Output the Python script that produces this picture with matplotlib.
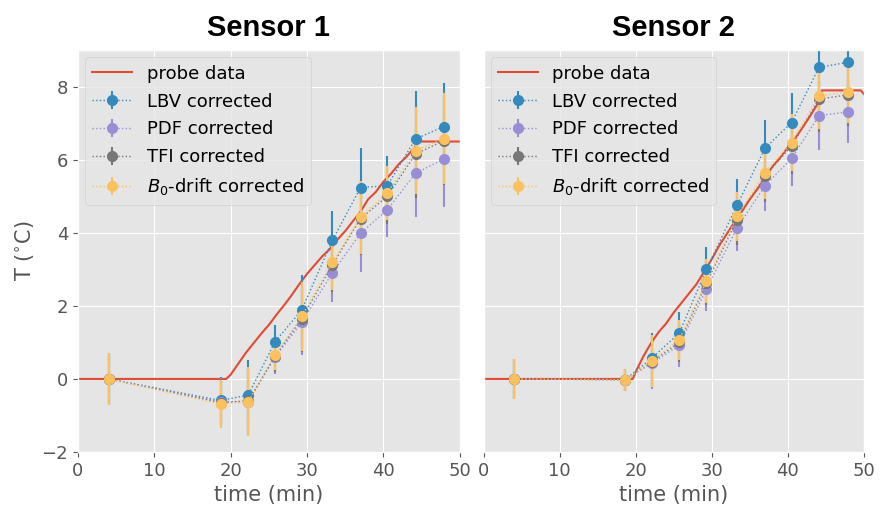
import numpy as np
import matplotlib
matplotlib.use("Agg")
import matplotlib.pyplot as plt

plt.style.use("ggplot")

# measurement times (min)
t1 = [4.0, 18.7, 22.3, 25.8, 29.3, 33.3, 37.0, 40.5, 44.2, 47.9]
t2 = [4.0, 18.6, 22.1, 25.7, 29.3, 33.3, 37.0, 40.5, 44.1, 47.9]

# probe data, sensor 1
probe1_t = [0, 19.4, 20.0, 21.0, 22.0, 23.0, 24.0, 25.0, 26.0, 27.0, 28.0, 29.0, 30.0,
            31.0, 32.0, 33.0, 34.0, 35.0, 36.0, 37.0, 38.0, 39.0, 40.0, 41.0, 42.0,
            43.0, 44.0, 44.6, 50]
probe1_T = [0, 0, 0.12, 0.42, 0.72, 0.98, 1.24, 1.48, 1.76, 2.02, 2.3, 2.6, 2.88,
            3.12, 3.36, 3.56, 3.82, 4.05, 4.32, 4.58, 4.92, 5.12, 5.4, 5.62, 5.88,
            6.08, 6.32, 6.5, 6.5]

# probe data, sensor 2
probe2_t = [0, 19.6, 20.0, 21.0, 22.0, 23.0, 24.0, 25.0, 26.0, 27.0, 28.0, 29.0, 30.0,
            31.0, 32.0, 33.0, 34.0, 35.0, 36.0, 37.0, 38.0, 39.0, 40.0, 41.0, 42.0,
            43.0, 44.0, 44.5, 49.6, 50]
probe2_T = [0, 0, 0.2, 0.62, 0.98, 1.28, 1.52, 1.82, 2.08, 2.34, 2.6, 2.94, 3.28,
            3.66, 3.98, 4.3, 4.6, 4.92, 5.2, 5.5, 5.82, 6.06, 6.34, 6.6, 6.9,
            7.22, 7.56, 7.9, 7.9, 7.8]

# sensor 1 corrected values and errors
lbv1 = [0.0, -0.59, -0.44, 1.02, 1.89, 3.79, 5.24, 5.29, 6.57, 6.91]
pdf1 = [0.0, -0.62, -0.62, 0.59, 1.55, 2.90, 3.99, 4.63, 5.63, 6.02]
tfi1 = [0.0, -0.65, -0.60, 0.62, 1.65, 3.12, 4.39, 5.00, 6.16, 6.52]
b01 = [0.0, -0.69, -0.62, 0.66, 1.71, 3.19, 4.43, 5.09, 6.25, 6.58]
lbv1_err = [0.7, 0.65, 0.95, 0.45, 0.95, 0.8, 1.08, 0.8, 1.3, 1.2]
pdf1_err = [0.7, 0.65, 0.9, 0.45, 0.9, 0.8, 1.05, 0.75, 1.2, 1.3]
tfi1_err = [0.7, 0.65, 0.9, 0.42, 0.9, 0.75, 1.0, 0.75, 1.2, 1.2]
b01_err = [0.7, 0.65, 0.95, 0.42, 0.95, 0.75, 1.0, 0.75, 1.2, 1.25]

# sensor 2 corrected values and errors
lbv2 = [0.0, -0.02, 0.57, 1.25, 3.00, 4.75, 6.32, 7.02, 8.53, 8.67]
pdf2 = [0.0, -0.02, 0.43, 0.92, 2.46, 4.13, 5.29, 6.04, 7.21, 7.31]
tfi2 = [0.0, -0.02, 0.47, 1.00, 2.62, 4.36, 5.56, 6.38, 7.66, 7.78]
b02 = [0.0, -0.02, 0.49, 1.07, 2.68, 4.45, 5.65, 6.47, 7.75, 7.85]
lbv2_err = [0.55, 0.3, 0.7, 0.58, 0.62, 0.73, 0.76, 0.82, 0.9, 0.9]
pdf2_err = [0.55, 0.3, 0.7, 0.6, 0.6, 0.64, 0.7, 0.77, 0.94, 0.84]
tfi2_err = [0.55, 0.3, 0.7, 0.55, 0.6, 0.68, 0.72, 0.78, 0.9, 0.85]
b02_err = [0.55, 0.3, 0.7, 0.55, 0.6, 0.68, 0.72, 0.78, 0.9, 0.85]

colors = {"probe": "#E24A33", "LBV": "#348ABD", "PDF": "#988ED5",
          "TFI": "#777777", "B0": "#FBC15E"}

fig = plt.figure(figsize=(8.86, 5.07), dpi=100)
ax1 = fig.add_axes([0.088, 0.1085, 0.431, 0.7925])
ax2 = fig.add_axes([0.546, 0.1085, 0.429, 0.7925], sharey=ax1)


def draw(ax, t, pt, pT, series, title):
    ax.plot(pt, pT, color=colors["probe"], lw=1.5, label="probe data")
    for key, label, y, e in series:
        ax.errorbar(t, y, yerr=e, fmt="o", ls=":", lw=1, ms=7, elinewidth=1.5,
                    color=colors[key], label=label)
    ax.set_xlim(0, 50)
    ax.set_ylim(-2, 9)
    ax.set_xticks([0, 10, 20, 30, 40, 50])
    ax.set_yticks([-2, 0, 2, 4, 6, 8])
    ax.tick_params(labelsize=13)
    ax.set_xlabel("time (min)", fontsize=15)
    ax.set_title(title, fontsize=21, fontweight="bold", color="black", pad=10,
                 family="Liberation Sans")
    ax.legend(loc="upper left", fontsize=13, handlelength=2.2, labelspacing=0.55,
              borderaxespad=0.4)


draw(ax1, t1, probe1_t, probe1_T,
     [("LBV", "LBV corrected", lbv1, lbv1_err),
      ("PDF", "PDF corrected", pdf1, pdf1_err),
      ("TFI", "TFI corrected", tfi1, tfi1_err),
      ("B0", "$B_0$-drift corrected", b01, b01_err)], "Sensor 1")
draw(ax2, t2, probe2_t, probe2_T,
     [("LBV", "LBV corrected", lbv2, lbv2_err),
      ("PDF", "PDF corrected", pdf2, pdf2_err),
      ("TFI", "TFI corrected", tfi2, tfi2_err),
      ("B0", "$B_0$-drift corrected", b02, b02_err)], "Sensor 2")

ax1.set_ylabel("T ($^{\\circ}$C)", fontsize=15)
ax2.tick_params(axis="y", length=0)
plt.setp(ax2.get_yticklabels(), visible=False)

fig.savefig("out.png", dpi=100)
